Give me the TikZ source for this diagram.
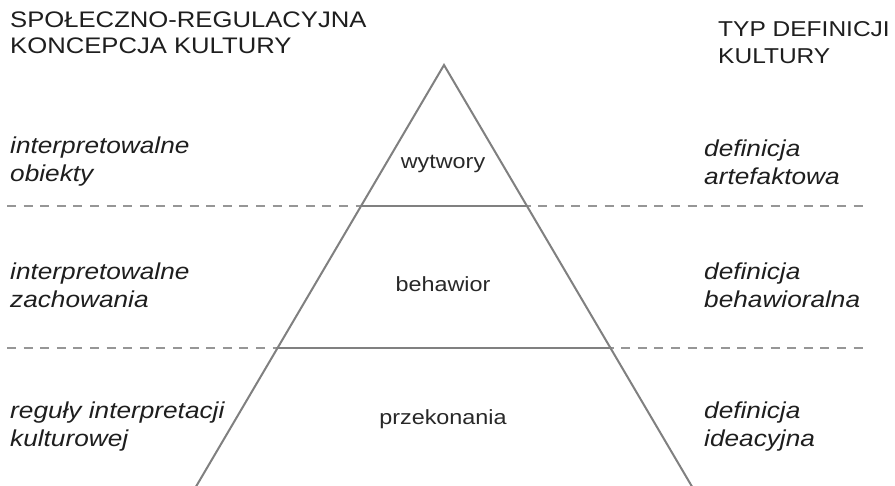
\documentclass[tikz,border=0pt]{standalone}
\usepackage{fontspec}
\setmainfont{Liberation Sans}[FakeStretch=1.14]
\begin{document}
\begin{tikzpicture}[x=1pt,y=-1pt,
  tri/.style={draw={rgb,255:red,128;green,128;blue,128},line width=2pt,line join=miter},
  sep/.style={draw={rgb,255:red,150;green,150;blue,150},line width=2pt,dash pattern=on 9pt off 7.6pt},
  head/.style={anchor=north west,align=left,font=\fontsize{22.5}{25.5}\selectfont,inner sep=0pt,text={rgb,255:red,30;green,30;blue,30}},
  headr/.style={head,font=\fontsize{21.5}{27}\selectfont},
  side/.style={anchor=west,align=left,font=\fontsize{23}{28}\selectfont\itshape,inner sep=0pt,text={rgb,255:red,30;green,30;blue,30}},
  mid/.style={font=\fontsize{20.5}{25}\selectfont,inner sep=0pt,text={rgb,255:red,40;green,40;blue,40}}]
\useasboundingbox (0,0) rectangle (895,486);
\fill[white] (0,0) rectangle (895,486);
% dashed separators
\coordinate (d1l) at (7,206);
\coordinate (d1r) at (866,206);
\coordinate (d2l) at (7,348);
\coordinate (d2r) at (866,348);
\draw[sep] (d1l) -- (d1r);
\draw[sep] (d2l) -- (d2r);
% triangle
\coordinate (apex) at (444,65);
\coordinate (bl) at (194,490);
\coordinate (br) at (694,490);
\coordinate (a1) at (360,206);
\coordinate (b1) at (528,206);
\coordinate (a2) at (276,348);
\coordinate (b2) at (612,348);
\fill[white] (apex) -- (br) -- (bl) -- cycle;
\draw[tri] (bl) -- (apex) -- (br);
\draw[tri] (a1) -- (b1);
\draw[tri] (a2) -- (b2);
% headers
\node[head] (hl) at (10,12) {SPOŁECZNO-REGULACYJNA\\KONCEPCJA KULTURY};
\node[headr] (hr) at (718,21) {TYP DEFINICJI\\KULTURY};
% left
\node[side] (l1) at (10,162) {interpretowalne\\obiekty};
\node[side] (l2) at (10,285) {interpretowalne\\zachowania};
\node[side] (l3) at (10,427) {reguły interpretacji\\kulturowej};
% right
\node[side] (r1) at (704,162) {definicja\\artefaktowa};
\node[side] (r2) at (704,285) {definicja\\behawioralna};
\node[side] (r3) at (704,427) {definicja\\ideacyjna};
% middle
\node[mid] (m1) at (443,164) {wytwory};
\node[mid] (m2) at (443,284) {behawior};
\node[mid] (m3) at (443,419) {przekonania};
\end{tikzpicture}
\end{document}
